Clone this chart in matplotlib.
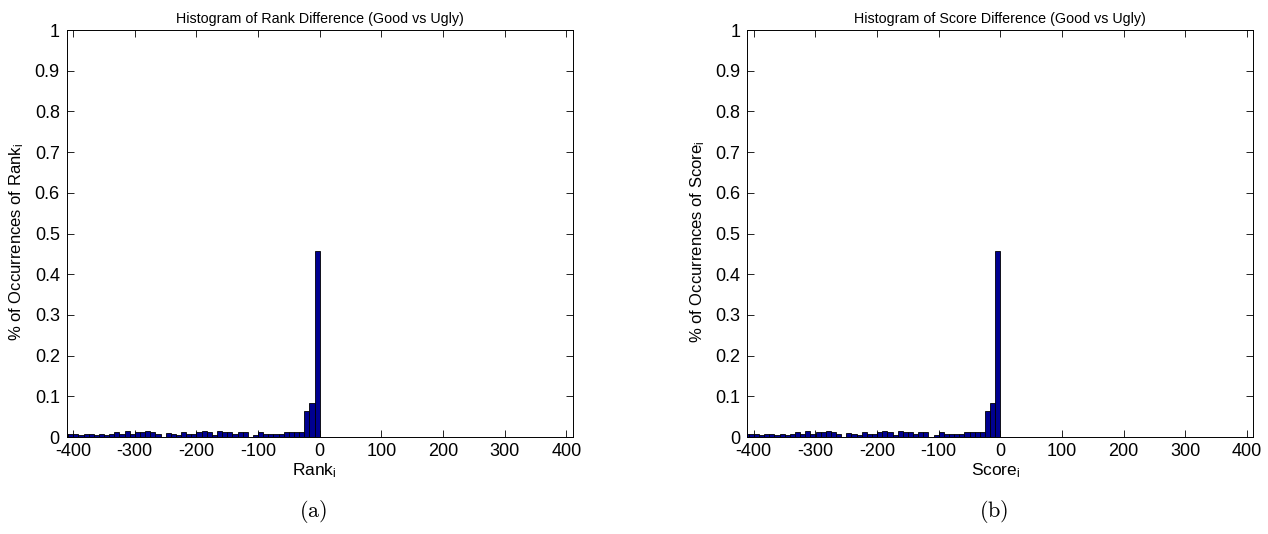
#histograms of rank / score difference (good vs ugly)
import numpy as np
import matplotlib.pyplot as plt

plt.rcParams['font.family'] = ['Liberation Sans', 'DejaVu Sans']
plt.rcParams['mathtext.fontset'] = 'custom'
plt.rcParams['mathtext.rm'] = 'Liberation Sans'
plt.rcParams['mathtext.it'] = 'Liberation Sans'
plt.rcParams['axes.unicode_minus'] = False

#fraction of occurrences per bin (50 bins from about -416 to 0)
rank_hist = [0.008, 0.008, 0.008, 0.005, 0.008, 0.008, 0.005, 0.008, 0.005, 0.008,
             0.012, 0.008, 0.015, 0.008, 0.012, 0.012, 0.015, 0.012, 0.008, 0.0,
             0.009, 0.008, 0.005, 0.012, 0.008, 0.008, 0.012, 0.015, 0.012, 0.005,
             0.015, 0.012, 0.012, 0.008, 0.012, 0.012, 0.0, 0.005, 0.012, 0.008,
             0.008, 0.008, 0.008, 0.012, 0.012, 0.012, 0.012, 0.063, 0.083, 0.458]
score_hist = [0.008, 0.008, 0.008, 0.005, 0.008, 0.008, 0.005, 0.008, 0.005, 0.008,
              0.012, 0.008, 0.015, 0.008, 0.012, 0.012, 0.015, 0.012, 0.008, 0.0,
              0.009, 0.008, 0.005, 0.012, 0.008, 0.008, 0.012, 0.015, 0.012, 0.005,
              0.015, 0.012, 0.012, 0.008, 0.012, 0.012, 0.0, 0.005, 0.012, 0.008,
              0.008, 0.008, 0.008, 0.012, 0.012, 0.012, 0.012, 0.063, 0.083, 0.458]
bin_lo, bin_hi = -416, 0

titles = ['Histogram of Rank Difference (Good vs Ugly)',
          'Histogram of Score Difference (Good vs Ugly)']
xlabels = ['Rank$_{\\mathrm{i}}$', 'Score$_{\\mathrm{i}}$']
ylabels = ['% of Occurrences of Rank$_{\\mathrm{i}}$', '% of Occurrences of Score$_{\\mathrm{i}}$']
captions = ['(a)', '(b)']
xticks = [-400, -300, -200, -100, 0, 100, 200, 300, 400]
yticks = [0, 0.1, 0.2, 0.3, 0.4, 0.5, 0.6, 0.7, 0.8, 0.9, 1]
ytick_labels = ['0', '0.1', '0.2', '0.3', '0.4', '0.5', '0.6', '0.7', '0.8', '0.9', '1']

fig = plt.figure(figsize=(12.68, 5.34), dpi=100)
lefts = [0.0526, 0.5894]

for i, vals in enumerate([rank_hist, score_hist]):
    ax = fig.add_axes([lefts[i], 0.1816, 0.399, 0.762])
    edges = np.linspace(bin_lo, bin_hi, len(vals) + 1)
    ax.bar(edges[:-1], vals, width=np.diff(edges), align='edge',
           color='#000090', edgecolor='black', linewidth=0.6)
    ax.set_xlim(-410, 410)
    ax.set_ylim(0, 1)
    ax.set_xticks(xticks)
    ax.set_yticks(yticks)
    ax.set_yticklabels(ytick_labels)
    ax.tick_params(direction='in', top=True, right=True, length=5, width=0.6,
                   labelsize=13)
    ax.tick_params(axis='x', pad=4.5)
    ax.tick_params(axis='y', pad=5)
    for s in ax.spines.values():
        s.set_linewidth(0.7)
    ax.set_title(titles[i], fontsize=10.3, pad=5)
    ax.set_xlabel(xlabels[i], fontsize=12.5)
    ax.xaxis.set_label_coords(0.49, -0.06)
    ax.set_ylabel(ylabels[i], fontsize=12)
    ax.yaxis.set_label_coords(-0.08, 0.48)
    fig.text(lefts[i] + 0.1995 - 0.005, 0.032, '$\\mathrm{' + captions[i] + '}$',
             math_fontfamily='cm', fontsize=16, ha='center')

plt.savefig('out.png', dpi=100)
